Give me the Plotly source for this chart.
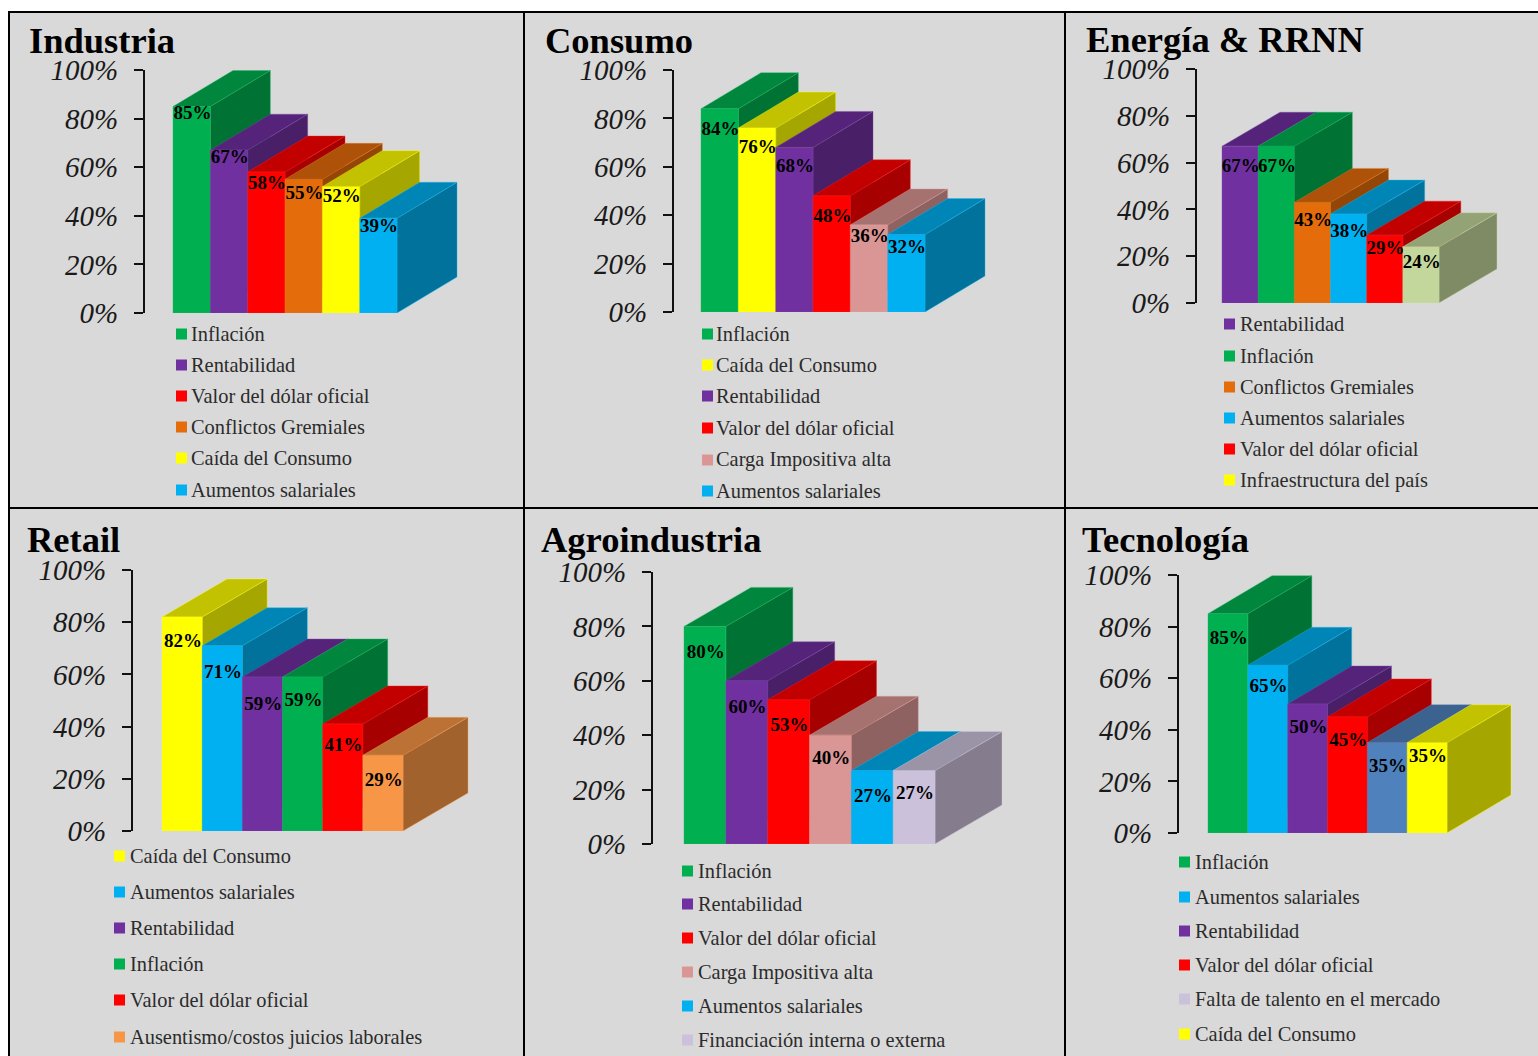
import plotly.graph_objects as go

W, H = 1538, 1056

# ---- data ----
industria_categories = ["Inflación", "Rentabilidad", "Valor del dólar oficial", "Conflictos Gremiales", "Caída del Consumo", "Aumentos salariales"]
industria_values = [85, 67, 58, 55, 52, 39]
consumo_categories = ["Inflación", "Caída del Consumo", "Rentabilidad", "Valor del dólar oficial", "Carga Impositiva alta", "Aumentos salariales"]
consumo_values = [84, 76, 68, 48, 36, 32]
energia_categories = ["Rentabilidad", "Inflación", "Conflictos Gremiales", "Aumentos salariales", "Valor del dólar oficial", "Infraestructura del país"]
energia_values = [67, 67, 43, 38, 29, 24]
retail_categories = ["Caída del Consumo", "Aumentos salariales", "Rentabilidad", "Inflación", "Valor del dólar oficial", "Ausentismo/costos juicios laborales"]
retail_values = [82, 71, 59, 59, 41, 29]
agro_categories = ["Inflación", "Rentabilidad", "Valor del dólar oficial", "Carga Impositiva alta", "Aumentos salariales", "Financiación interna o externa"]
agro_values = [80, 60, 53, 40, 27, 27]
tecno_categories = ["Inflación", "Aumentos salariales", "Rentabilidad", "Valor del dólar oficial", "Falta de talento en el mercado", "Caída del Consumo"]
tecno_values = [85, 65, 50, 45, 35, 35]
tick_values = [0, 20, 40, 60, 80, 100]
tick_labels = ["0%", "20%", "40%", "60%", "80%", "100%"]

# ---- colours ----
PALETTE = {
    "Inflación": "#00B050", "Rentabilidad": "#7030A0", "Valor del dólar oficial": "#FF0000",
    "Conflictos Gremiales": "#E46C0A", "Caída del Consumo": "#FFFF00", "Aumentos salariales": "#00B0F0",
    "Carga Impositiva alta": "#D99694", "Infraestructura del país": "#FFFF00",
    "Ausentismo/costos juicios laborales": "#F79646", "Financiación interna o externa": "#CCC1DA",
    "Falta de talento en el mercado": "#CCC1DA",
}
BAR_OVERRIDE = {
    "Energía & RRNN": {"Infraestructura del país": "#C3D69B"},
    "Tecnología": {"Falta de talento en el mercado": "#4F81BD"},
}

# ---- layout of each panel (pixels) ----
PANELS = [
    dict(title="Industria", cats=industria_categories, vals=industria_values, tx=29, ty=41,
         axis=145, left=173, right=397, dx=60, dy=36, y0=313, y100=70,
         lab=[8, 8, 12, 15, 11, 9], leg_x=176, leg_text=191, leg_y=[334, 365, 396, 427, 458, 490]),
    dict(title="Consumo", cats=consumo_categories, vals=consumo_values, tx=545, ty=41,
         axis=674, left=701, right=925, dx=60, dy=36, y0=312, y100=70,
         lab=[22, 20, 20, 21, 12, 14], leg_x=702, leg_text=716, leg_y=[334, 365, 396, 428, 460, 491]),
    dict(title="Energía & RRNN", cats=energia_categories, vals=energia_values, tx=1086, ty=40,
         axis=1197, left=1222, right=1439, dx=58, dy=34, y0=303, y100=69,
         lab=[21, 21, 19, 18, 14, 16], leg_x=1224, leg_text=1240, leg_y=[324, 356, 387, 418, 449, 480]),
    dict(title="Retail", cats=retail_categories, vals=retail_values, tx=27, ty=539,
         axis=133, left=162, right=403, dx=65, dy=38, y0=831, y100=570,
         lab=[25, 28, 28, 24, 22, 26], leg_x=114, leg_text=130, leg_y=[856, 892, 928, 964, 1000, 1037]),
    dict(title="Agroindustria", cats=agro_categories, vals=agro_values, tx=541, ty=539,
         axis=653, left=684, right=935, dx=67, dy=39, y0=844, y100=572,
         lab=[27, 27, 26, 24, 27, 24], leg_x=682, leg_text=698, leg_y=[871, 904, 938, 972, 1006, 1040]),
    dict(title="Tecnología", cats=tecno_categories, vals=tecno_values, tx=1082, ty=539,
         axis=1179, left=1208, right=1447, dx=64, dy=38, y0=833, y100=575,
         lab=[26, 22, 24, 24, 25, 15], leg_x=1179, leg_text=1195, leg_y=[862, 897, 931, 965, 999, 1034]),
]

SERIF = "Liberation Serif"
BG = "#D9D9D9"


def shade(hex_color, k):
    r, g, b = (int(hex_color[i:i + 2], 16) for i in (1, 3, 5))
    return f"rgb({r * k:.0f},{g * k:.0f},{b * k:.0f})"


def tint(hex_color, k):
    r, g, b = (int(hex_color[i:i + 2], 16) for i in (1, 3, 5))
    return f"rgb({r + (255 - r) * k:.0f},{g + (255 - g) * k:.0f},{b + (255 - b) * k:.0f})"


def fx(x):
    return x / W


def fy(y):
    return 1 - y / H


fig = go.Figure()
shapes, annotations = [], []

# panel frames
for x0, x1, y0, y1 in [(9, 524, 12, 508), (524, 1065, 12, 508), (1065, 1540, 12, 508),
                       (9, 524, 508, 1058), (524, 1065, 508, 1058), (1065, 1540, 508, 1058)]:
    shapes.append(dict(type="rect", xref="paper", yref="paper", x0=fx(x0), x1=fx(x1), y0=fy(y1), y1=fy(y0),
                       fillcolor=BG, line=dict(color="black", width=2), layer="below"))

layout_axes = {}
for n, p in enumerate(PANELS, start=1):
    sfx = "" if n == 1 else str(n)
    xid, yid = f"x{sfx}", f"y{sfx}"
    count = len(p["vals"])
    bar_w = (p["right"] - p["left"]) / count
    pct = (p["y0"] - p["y100"]) / 100
    plot_right = p["right"] + p["dx"] + 4
    layout_axes[f"xaxis{sfx}"] = dict(
        domain=[fx(p["axis"]), fx(plot_right)],
        range=[(p["axis"] - p["left"]) / bar_w, (plot_right - p["left"]) / bar_w],
        visible=False, anchor=yid, fixedrange=True)
    layout_axes[f"yaxis{sfx}"] = dict(
        domain=[fy(p["y0"]), fy(p["y100"])], range=[0, 100], anchor=xid, side="left",
        tickmode="array", tickvals=tick_values, ticktext=tick_labels,
        ticks="outside", ticklen=9, tickwidth=2, tickcolor="#111111",
        showline=True, linecolor="#111111", linewidth=2, showgrid=False, zeroline=False,
        ticklabelstandoff=10, fixedrange=True,
        tickfont=dict(family=SERIF, size=29, color="#1a1a1a", style="italic"))

    ddx = p["dx"] / bar_w
    ddy = p["dy"] / pct
    overrides = BAR_OVERRIDE.get(p["title"], {})
    for i, (cat, v) in enumerate(zip(p["cats"], p["vals"])):
        col = overrides.get(cat, PALETTE[cat])
        edge = tint(col, 0.12)
        x0, x1 = i, i + 1
        faces = [
            ([x1, x1 + ddx, x1 + ddx, x1, x1], [0, ddy, v + ddy, v, 0], shade(col, 0.65)),
            ([x0, x1, x1 + ddx, x0 + ddx, x0], [v, v, v + ddy, v + ddy, v], shade(col, 0.76)),
            ([x0, x1, x1, x0, x0], [0, 0, v, v, 0], col),
        ]
        for xs, ys, c in faces:
            fig.add_trace(go.Scatter(x=xs, y=ys, xaxis=xid, yaxis=yid, mode="lines", fill="toself",
                                     fillcolor=c, line=dict(color=edge, width=0.4), name=cat,
                                     showlegend=False, hoverinfo="skip"))
    fig.add_trace(go.Scatter(
        x=[i + 0.52 for i in range(count)],
        y=[v - o / pct for v, o in zip(p["vals"], p["lab"])],
        xaxis=xid, yaxis=yid, mode="text", text=[f"{v}%" for v in p["vals"]],
        textposition="middle center", textfont=dict(family=SERIF, size=19, color="black", weight="bold"),
        showlegend=False, hoverinfo="skip"))

    annotations.append(dict(text=p["title"], xref="paper", yref="paper", x=fx(p["tx"]), y=fy(p["ty"]),
                            xanchor="left", yanchor="middle", showarrow=False, xshift=-2,
                            font=dict(family=SERIF, size=36.5, color="black", weight="bold")))
    for cat, ly in zip(p["cats"], p["leg_y"]):
        shapes.append(dict(type="rect", xref="paper", yref="paper", x0=fx(p["leg_x"]), x1=fx(p["leg_x"] + 11),
                           y0=fy(ly + 5.5), y1=fy(ly - 5.5), fillcolor=PALETTE[cat], line=dict(width=0), layer="below"))
        annotations.append(dict(text=cat, xref="paper", yref="paper", x=fx(p["leg_text"]), y=fy(ly),
                                xanchor="left", yanchor="middle", showarrow=False, xshift=-2,
                                font=dict(family=SERIF, size=20.4, color="#2b2b2b")))

fig.update_layout(width=W, height=H, autosize=False,
                  margin=dict(l=0, r=0, t=0, b=0, pad=0, autoexpand=False),
                  paper_bgcolor="white", plot_bgcolor="rgba(0,0,0,0)", showlegend=False,
                  shapes=shapes, annotations=annotations, **layout_axes)

fig.write_html("out.html", config={"displayModeBar": False},
               post_script="document.body.style.margin='0';document.body.style.overflow='hidden';")
